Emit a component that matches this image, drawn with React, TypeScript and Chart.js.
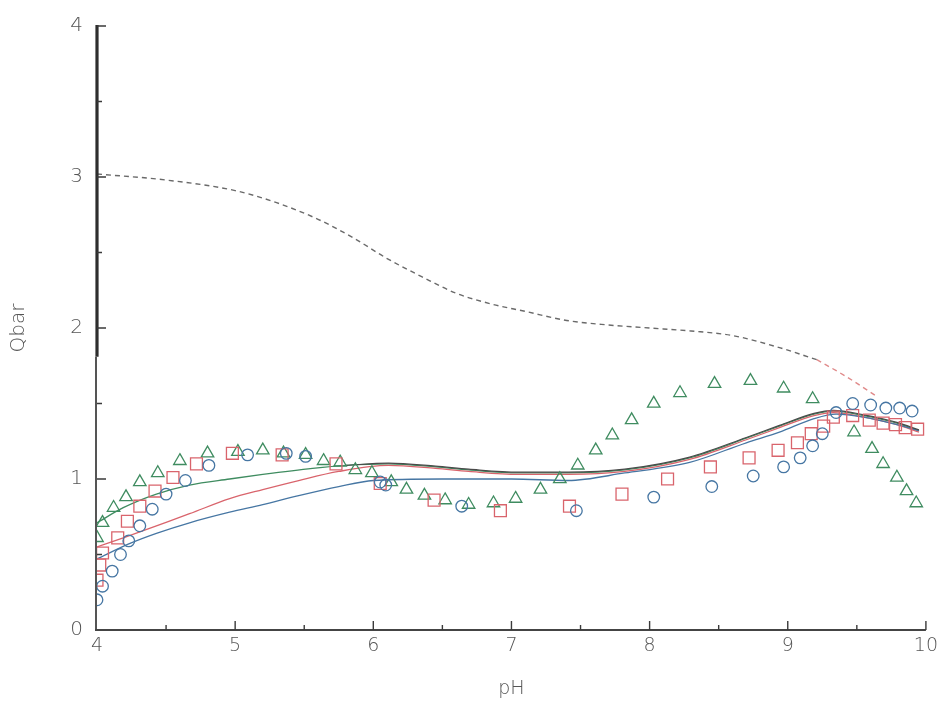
import React, { useEffect, useRef } from "react";
import { Chart, registerables } from "chart.js";

Chart.register(...registerables);

// Measured adsorption (circles, squares, triangles) vs. pH
const circlePH = [4.0, 4.04, 4.11, 4.17, 4.23, 4.31, 4.4, 4.5, 4.64, 4.81, 5.09, 5.37, 5.51, 6.05, 6.09, 6.64, 7.47, 8.03, 8.45, 8.75, 8.97, 9.09, 9.18, 9.25, 9.35, 9.47, 9.6, 9.71, 9.81, 9.9];
const circleQ = [0.2, 0.29, 0.39, 0.5, 0.59, 0.69, 0.8, 0.9, 0.99, 1.09, 1.16, 1.17, 1.15, 0.98, 0.96, 0.82, 0.79, 0.88, 0.95, 1.02, 1.08, 1.14, 1.22, 1.3, 1.44, 1.5, 1.49, 1.47, 1.47, 1.45];

const squarePH = [4.0, 4.02, 4.04, 4.15, 4.22, 4.31, 4.42, 4.55, 4.72, 4.98, 5.34, 5.73, 6.05, 6.44, 6.92, 7.42, 7.8, 8.13, 8.44, 8.72, 8.93, 9.07, 9.17, 9.26, 9.33, 9.47, 9.59, 9.69, 9.78, 9.85, 9.94];
const squareQ = [0.33, 0.43, 0.51, 0.61, 0.72, 0.82, 0.92, 1.01, 1.1, 1.17, 1.16, 1.1, 0.97, 0.86, 0.79, 0.82, 0.9, 1.0, 1.08, 1.14, 1.19, 1.24, 1.3, 1.35, 1.41, 1.42, 1.39, 1.37, 1.36, 1.34, 1.33];

const trianglePH = [4.0, 4.04, 4.12, 4.21, 4.31, 4.44, 4.6, 4.8, 5.02, 5.2, 5.35, 5.51, 5.64, 5.76, 5.87, 5.99, 6.13, 6.24, 6.37, 6.52, 6.69, 6.87, 7.03, 7.21, 7.35, 7.48, 7.61, 7.73, 7.87, 8.03, 8.22, 8.47, 8.73, 8.97, 9.18, 9.48, 9.61, 9.69, 9.79, 9.86, 9.93];
const triangleQ = [0.61, 0.71, 0.81, 0.88, 0.98, 1.04, 1.12, 1.17, 1.18, 1.19, 1.17, 1.16, 1.12, 1.11, 1.06, 1.04, 0.98, 0.93, 0.89, 0.86, 0.83, 0.84, 0.87, 0.93, 1.0, 1.09, 1.19, 1.29, 1.39, 1.5, 1.57, 1.63, 1.65, 1.6, 1.53, 1.31, 1.2, 1.1, 1.01, 0.92, 0.84];

// Model curves
const bluePH = [4.0, 4.23, 4.43, 4.67, 4.96, 5.2, 5.46, 5.75, 6.0, 6.5, 7.0, 7.41, 7.82, 8.29, 8.7, 8.94, 9.19, 9.35, 9.55, 9.79, 9.95];
const blueQ = [0.47, 0.57, 0.64, 0.71, 0.78, 0.83, 0.89, 0.95, 0.99, 1.0, 1.0, 0.99, 1.04, 1.11, 1.24, 1.31, 1.4, 1.43, 1.41, 1.36, 1.32];

const redPH = [4.0, 4.19, 4.43, 4.67, 4.96, 5.2, 5.46, 5.75, 6.11, 6.45, 6.69, 7.05, 7.41, 7.82, 8.29, 8.7, 8.94, 9.19, 9.33, 9.55, 9.79, 9.95];
const redQ = [0.55, 0.61, 0.69, 0.77, 0.87, 0.93, 0.99, 1.05, 1.09, 1.07, 1.05, 1.03, 1.03, 1.05, 1.13, 1.26, 1.34, 1.42, 1.44, 1.41, 1.36, 1.31];

const greenPH = [4.0, 4.19, 4.43, 4.67, 4.96, 5.2, 5.56, 5.8, 6.11, 6.45, 6.69, 7.05, 7.41, 7.82, 8.29, 8.7, 8.94, 9.19, 9.33, 9.55, 9.79, 9.95];
const greenQ = [0.71, 0.81, 0.9, 0.96, 1.0, 1.03, 1.07, 1.09, 1.1, 1.08, 1.06, 1.04, 1.04, 1.06, 1.14, 1.27, 1.35, 1.43, 1.45, 1.42, 1.37, 1.32];

const blackPH = [5.8, 6.11, 6.45, 6.69, 7.05, 7.41, 7.82, 8.29, 8.7, 8.94, 9.19, 9.33, 9.55, 9.79, 9.95];
const blackQ = [1.09, 1.105, 1.085, 1.065, 1.045, 1.045, 1.065, 1.145, 1.275, 1.355, 1.435, 1.455, 1.425, 1.375, 1.325];

const dashPH = [4.0, 4.5, 5.0, 5.3, 5.6, 5.85, 6.1, 6.35, 6.6, 6.85, 7.1, 7.4, 7.7, 8.0, 8.3, 8.6, 8.94, 9.21];
const dashQ = [3.02, 2.98, 2.91, 2.83, 2.72, 2.6, 2.46, 2.34, 2.23, 2.16, 2.11, 2.05, 2.02, 2.0, 1.98, 1.95, 1.87, 1.79];

const dashTailPH = [9.21, 9.42, 9.64];
const dashTailQ = [1.79, 1.68, 1.55];

const xTicks = [4, 5, 6, 7, 8, 9, 10];
const yTicks = [0, 1, 2, 3, 4];

const pts = (xs: number[], ys: number[]) => xs.map((x, i) => ({ x, y: ys[i] }));

const BLUE = "#4676a3";
const RED = "#d9646c";
const GREEN = "#3f8c60";
const INK = "#3a3a3a";
const TEXT = "#555555";
const FONT = "'DejaVu Sans', 'Liberation Sans', sans-serif";

// Axis lines and inward-pointing tick marks
const framePlugin = {
  id: "frame",
  afterDatasetsDraw(chart: any) {
    const { ctx, scales } = chart;
    const xs = scales.x;
    const ys = scales.y;
    const x0 = xs.getPixelForValue(4);
    const x1 = xs.getPixelForValue(10);
    const y0 = ys.getPixelForValue(0);
    const yTop = ys.getPixelForValue(4);
    const yBreak = ys.getPixelForValue(1.81);
    ctx.save();
    ctx.lineCap = "butt";
    // left axis: heavier upper part, lighter lower part
    ctx.strokeStyle = "#2e2e2e";
    ctx.lineWidth = 3.2;
    ctx.beginPath();
    ctx.moveTo(x0, yTop - 1);
    ctx.lineTo(x0, yBreak);
    ctx.stroke();
    ctx.strokeStyle = "#555";
    ctx.lineWidth = 2;
    ctx.beginPath();
    ctx.moveTo(x0 - 1, yBreak);
    ctx.lineTo(x0 - 1, y0 + 1);
    ctx.stroke();
    // bottom axis
    ctx.strokeStyle = "#444";
    ctx.lineWidth = 2;
    ctx.beginPath();
    ctx.moveTo(x0 - 2, y0);
    ctx.lineTo(x1, y0);
    ctx.stroke();
    // ticks
    ctx.strokeStyle = INK;
    ctx.lineWidth = 1.4;
    ctx.beginPath();
    for (let v = 0; v <= 4.001; v += 0.5) {
      const py = ys.getPixelForValue(v);
      const len = Math.abs(v - Math.round(v)) < 1e-6 ? 9 : 5;
      if (v === 0) continue;
      ctx.moveTo(x0, py);
      ctx.lineTo(x0 + len, py);
    }
    for (let v = 4; v <= 10.001; v += 0.5) {
      const px = xs.getPixelForValue(v);
      const len = Math.abs(v - Math.round(v)) < 1e-6 ? 9 : 5;
      if (v === 4) continue;
      ctx.moveTo(px, y0);
      ctx.lineTo(px, y0 - len);
    }
    ctx.stroke();
    ctx.restore();
  },
};

export default function App() {
  const ref = useRef<HTMLCanvasElement | null>(null);

  useEffect(() => {
    if (!ref.current) return;
    const lineDs = (label: string, xs: number[], ys: number[], color: string, extra: any = {}) => ({
      label,
      data: pts(xs, ys),
      showLine: true,
      borderColor: color,
      backgroundColor: color,
      borderWidth: 1.3,
      pointRadius: 0,
      tension: 0.4,
      cubicInterpolationMode: "monotone",
      order: 5,
      ...extra,
    });
    const markerDs = (label: string, xs: number[], ys: number[], color: string, style: string, r: number) => ({
      label,
      data: pts(xs, ys),
      showLine: false,
      pointStyle: style,
      pointRadius: r,
      pointBorderWidth: 1.3,
      pointBorderColor: color,
      pointBackgroundColor: "rgba(0,0,0,0)",
      borderColor: color,
      backgroundColor: "rgba(0,0,0,0)",
      order: 1,
    });

    const chart = new Chart(ref.current, {
      type: "scatter",
      data: {
        datasets: [
          lineDs("total", dashPH, dashQ, "#6a6a6a", { borderDash: [5, 4], borderWidth: 1.4, order: 6 }),
          lineDs("total (end)", dashTailPH, dashTailQ, "#e08a8a", { borderDash: [5, 4], borderWidth: 1.4, order: 6 }),
          lineDs("blue model", bluePH, blueQ, BLUE),
          lineDs("red model", redPH, redQ, RED),
          lineDs("green model", greenPH, greenQ, GREEN),
          lineDs("combined", blackPH, blackQ, "#4a4a4a", { borderWidth: 1.2, order: 4 }),
          markerDs("series 1", circlePH, circleQ, BLUE, "circle", 5.8),
          markerDs("series 2", squarePH, squareQ, RED, "rect", 8.4),
          markerDs("series 3", trianglePH, triangleQ, GREEN, "triangle", 7.2),
        ] as any,
      },
      options: {
        responsive: false,
        animation: false,
        devicePixelRatio: 1,
        layout: { padding: { top: 24, right: 14, left: 0, bottom: 0 } },
        plugins: {
          legend: { display: false },
          tooltip: { enabled: false },
        },
        scales: {
          x: {
            type: "linear",
            min: 4,
            max: 10,
            grid: { display: false, drawTicks: false },
            border: { display: false },
            afterBuildTicks: (s: any) => {
              s.ticks = xTicks.map((v) => ({ value: v }));
            },
            afterFit: (s: any) => {
              s.height = 71;
            },
            ticks: {
              padding: 5,
              color: TEXT,
              font: { family: FONT, size: 19, weight: "200" },
              maxRotation: 0,
            },
            title: {
              display: true,
              text: "pH",
              color: TEXT,
              font: { family: FONT, size: 19, weight: "200" },
              padding: { top: 0, bottom: 1 },
            },
          },
          y: {
            type: "linear",
            min: 0,
            max: 4,
            grid: { display: false, drawTicks: false },
            border: { display: false },
            afterBuildTicks: (s: any) => {
              s.ticks = yTicks.map((v) => ({ value: v }));
            },
            afterFit: (s: any) => {
              s.width = 97;
            },
            ticks: {
              padding: 14,
              color: TEXT,
              font: { family: FONT, size: 20, weight: "200" },
            },
            title: {
              display: true,
              text: "Qbar",
              color: TEXT,
              font: { family: FONT, size: 20, weight: "200" },
              padding: { top: 7, bottom: 0 },
            },
          },
        },
      } as any,
      plugins: [framePlugin],
    });
    return () => chart.destroy();
  }, []);

  return (
    <div style={{ position: "fixed", left: 0, top: 0, width: 943, height: 701, background: "#fff" }}>
      <canvas ref={ref} width={943} height={701} style={{ display: "block" }} />
    </div>
  );
}
